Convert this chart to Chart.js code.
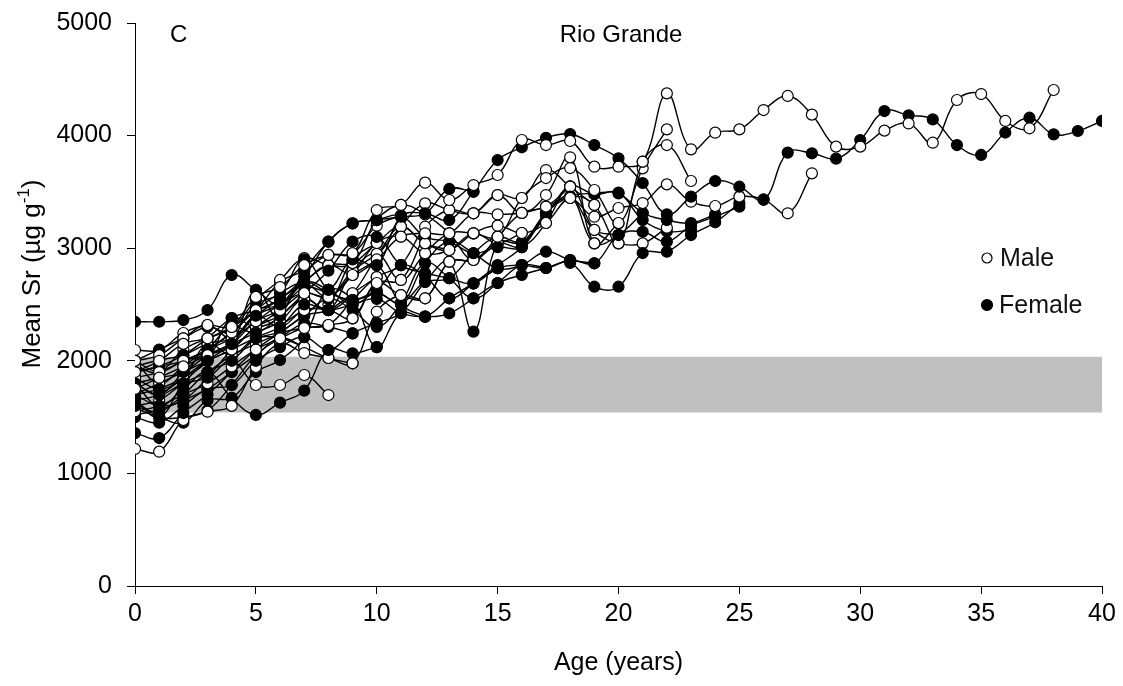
<!DOCTYPE html>
<html>
<head>
<meta charset="utf-8">
<script src="https://cdn.jsdelivr.net/npm/chart.js@4.4.0/dist/chart.umd.min.js"></script>
<style>
html,body{margin:0;padding:0;background:#fff;}
#wrap{position:relative;width:1123px;height:686px;}
</style>
</head>
<body>
<div id="wrap"><canvas id="c" width="1123" height="686"></canvas></div>
<script>
// ---- data (values by age, index = age in years) ----
const xTicks = [0, 5, 10, 15, 20, 25, 30, 35, 40];
const yTicks = [0, 1000, 2000, 3000, 4000, 5000];
const bandLow = 1540;
const bandHigh = 2035;

// Male fish (open circles)
const M1 = [1900,2000,2150,2200,2300,2567,2655,2850,2940,2955,3339,3384,3582,3428,3561,3650,3961,3916,3952,3724,3724,3768,4375,3878,4026,4055,4227,4352,4186,3902,3902,4044,4108,3937,4316,4369,4130,4065,4405];
const M2 = [1750,1850,1950,2050,2150,2350,2450,2600,2567,2762,2900,3102,3132,3132,3310,3300,3313,3369,3446,3280,3357,3401,3567,3413,3375,3458,3434,3310,3665];
const M3 = [1850,1900,2000,2100,2250,2450,2500,2700,2850,2868,3046,3191,3043,2984,3132,3200,3135,3224,3450,3384,3043,3768,3916,3597];
const M4 = [1650,1700,1850,2000,2100,2300,2400,2550,2450,2800,2950,2718,2955,3132,3132,3102,3446,3623,3712,3517,3224,3709,4055];
const M5 = [2000,2050,2200,2318,2200,2400,2300,2450,2451,2377,2691,2584,2555,2880,2895,3046,3010,3224,3546,3162,3043,3043,3182];
const M6 = [1550,1600,1700,1800,1950,2100,2200,2291,2318,2540,2744,2850,3191,3339,3310,3472,3313,3472,3807,3043,3221];
const M7 = [1800,1850,1900,2050,2150,2250,2350,2550,2451,2600,2922,3191,3398,3339,3310,3472,3446,3694,3546,3384];
const M8 = [2096,2096,2247,2318,2300,2540,2718,2912,2851,2868,3250,3384,3300,3132,2895,3102,3313,3369,3546];
const M9 = [1950,2007,2050,2150,2200,2350,2500,2602,2567,2762,3046,3102,2955,2984,3132,3046,3135];
const M10 = [1217,1193,1474,1548,1600,1945,2150,2069,2025,1978,2436,2584,2555,2880,2895,3046];
const M11 = [1900,1950,2000,2100,2250,2450,2600,2691,2567,2800,2950,3191,3043,2984];
const M12 = [1700,1800,1900,2000,2100,2200,2250,2291,2318,2377,2691,2718,3132];
const M13 = [1600,1650,1800,1900,2050,2150,2250,2400,2450,2600,2744];
const M14 = [2000,1900,2000,2050,2150,2629,2350,2450,2500,2900,3046];
const M15 = [1850,1750,1850,2150,2050,2200,2200,2122,2025,1978];
const M16 = [1800,1700,1800,1850,2000,1785,1785,1874,1696];
const M17 = [1520,1563,1650,1750,1900,2050,2200,2122];
const M18 = [1950,1900,2100,2200,2300,2450,2700,2800,2940,2955,3200,3290];

// Female fish (filled circles)
const F1 = [1650,1500,1800,2000,2150,2400,2500,2700,2630,2900,2850,3280,3310,3250,3502,3783,3896,3981,4014,3916,3798,3579,3301,3458,3597,3546,3430,3849,3843,3795,3960,4218,4180,4144,3916,3828,4027,4159,4011,4041,4130];
const F2 = [1800,1700,1900,2100,2300,2250,2400,2600,2800,3058,3100,2850,2780,2733,2688,2822,2850,2824,2895,2866,3117,3146,3058,3200,3280,3369];
const F3 = [1600,1550,1700,1900,2000,2200,2300,2500,2450,2500,2550,2424,2392,2422,2555,2691,2762,2824,2870,2658,2658,2957,2969,3117,3230,3400];
const F4 = [1900,1950,2050,2200,2380,2450,2550,2750,3058,3221,3250,3290,3100,3058,2955,3010,3010,3313,3458,3487,3487,3313,3250,3224,3300];
const F5 = [1700,1600,1650,1850,2100,2300,2450,2650,2600,2540,2602,2513,2700,2733,2955,3100,3055,3290,3550,3480,3493,3250,3150,3160];
const F6 = [2000,2100,2200,2300,2250,2500,2600,2900,2629,2540,2629,2850,2750,2555,2688,2850,3010,3313,3458,3043,3117,3313];
const F7 = [1500,1450,1600,1750,1785,2000,2122,2211,2096,2244,2336,2424,2700,2880,2259,3046,3050,3313,3446,3162,3117];
const F8 = [2347,2347,2362,2451,2762,2629,2500,2700,2629,2500,2602,2513,2868,3058,2955,2822,2850,2969,2895,2866];
const F9 = [1358,1314,1536,1700,1900,2100,2250,2400,2550,2451,2300,2513,2868,2733,2555,2691,2850,2824];
const F10 = [1580,1500,1450,1650,1670,1900,2007,2211,2629,2540,2122,2424,2392,2555,2688,2822];
const F11 = [1700,1750,1850,2000,2380,2300,2400,2800,3058,3221,3250,3280,3310,3526,3502];
const F12 = [2000,1800,1950,2100,2200,2400,2550,2700,2850,2762,2850,2500,2392];
const F13 = [1800,1600,1750,1900,1670,1519,1628,1735,2096,2067,2122];
const F14 = [1650,1504,1500,1560,1785,2050,2200,2330,2300,2244];

const maleFish = [M1,M2,M3,M4,M5,M6,M7,M8,M9,M10,M11,M12,M13,M14,M15,M16,M17,M18];
const femaleFish = [F1,F2,F3,F4,F5,F6,F7,F8,F9,F10,F11,F12,F13,F14];

// ---- build datasets ----
function toPoints(arr){ return arr.map((v,i)=>({x:i,y:v})); }
function fishDataset(arr, female){
  return {
    data: toPoints(arr),
    borderColor: '#000',
    borderWidth: 1.4,
    tension: 0.4,
    pointRadius: 5.5,
    pointBorderWidth: 1.2,
    pointBorderColor: '#000',
    pointBackgroundColor: female ? '#000' : '#fff',
    fill: false,
    order: 0
  };
}
const datasets = [];
datasets.push({
  data: [{x:xTicks[0], y:bandHigh},{x:xTicks[xTicks.length-1], y:bandHigh}],
  borderWidth: 0,
  borderColor: 'rgba(0,0,0,0)',
  pointRadius: 0,
  backgroundColor: '#c0c0c0',
  fill: {value: bandLow},
  order: 1000,
  tension: 0
});
const n = Math.max(maleFish.length, femaleFish.length);
for (let i = 0; i < n; i++){
  if (i < maleFish.length) datasets.push(fishDataset(maleFish[i], false));
  if (i < femaleFish.length) datasets.push(fishDataset(femaleFish[i], true));
}

const FONT = "'Liberation Sans', Arial, sans-serif";

const annotations = {
  id: 'annotations',
  afterDraw(chart){
    const ctx = chart.ctx;
    ctx.save();
    ctx.fillStyle = '#000';
    ctx.textBaseline = 'middle';
    ctx.font = "24px " + FONT;
    ctx.textAlign = 'left';
    ctx.fillText('C', 170, 35);
    ctx.textAlign = 'center';
    ctx.fillText('Rio Grande', 621, 35);
    // y-axis title with superscript
    ctx.save();
    ctx.translate(31, 274);
    ctx.rotate(-Math.PI/2);
    const main = 'Mean Sr (µg g';
    const sup = '-1';
    const tail = ')';
    ctx.font = "26px " + FONT;
    const wMain = ctx.measureText(main).width;
    const wTail = ctx.measureText(tail).width;
    ctx.font = "17px " + FONT;
    const wSup = ctx.measureText(sup).width;
    const total = wMain + wSup + wTail;
    let x0 = -total/2;
    ctx.textAlign = 'left';
    ctx.textBaseline = 'alphabetic';
    ctx.font = "26px " + FONT;
    ctx.fillText(main, x0, 9);
    ctx.font = "17px " + FONT;
    ctx.fillText(sup, x0 + wMain, -2);
    ctx.font = "26px " + FONT;
    ctx.fillText(tail, x0 + wMain + wSup, 9);
    ctx.restore();
    // legend
    ctx.lineWidth = 1.2;
    ctx.strokeStyle = '#000';
    ctx.beginPath(); ctx.arc(987, 258, 5, 0, Math.PI*2);
    ctx.fillStyle = '#fff'; ctx.fill(); ctx.stroke();
    ctx.beginPath(); ctx.arc(987, 305, 5.5, 0, Math.PI*2);
    ctx.fillStyle = '#000'; ctx.fill(); ctx.stroke();
    ctx.fillStyle = '#111';
    ctx.font = "25px " + FONT;
    ctx.textAlign = 'left';
    ctx.textBaseline = 'middle';
    ctx.fillText('Male', 1000, 259);
    ctx.fillText('Female', 999, 306);
    ctx.restore();
  }
};

new Chart(document.getElementById('c'), {
  type: 'line',
  data: { datasets },
  options: {
    responsive: false,
    animation: false,
    events: [],
    layout: { padding: { top: 23, right: 21, left: 0, bottom: 0 } },
    plugins: { legend: { display: false }, tooltip: { enabled: false }, title: { display: false } },
    scales: {
      x: {
        type: 'linear',
        min: xTicks[0], max: xTicks[xTicks.length-1],
        afterFit(s){ s.height = 100; },
        afterBuildTicks(s){ s.ticks = xTicks.map(v=>({value:v})); },
        border: { color: '#000', width: 1 },
        grid: { drawOnChartArea: false, drawTicks: true, tickLength: 8, color: '#000' },
        ticks: { color: '#000', font: { family: FONT, size: 25 }, padding: 5, maxRotation: 0, callback: v => String(v) },
        title: { display: true, text: 'Age (years)', color: '#000', font: { family: FONT, size: 25 }, padding: { top: 0, bottom: 8 } }
      },
      y: {
        type: 'linear',
        min: yTicks[0], max: yTicks[yTicks.length-1],
        afterFit(s){ s.width = 135; s.paddingTop = 0; s.paddingBottom = 0; },
        afterBuildTicks(s){ s.ticks = yTicks.map(v=>({value:v})); },
        border: { color: '#000', width: 1 },
        grid: { drawOnChartArea: false, drawTicks: true, tickLength: 8, color: '#000' },
        ticks: { color: '#000', font: { family: FONT, size: 25 }, padding: 15, callback: v => String(v) },
        title: { display: false }
      }
    }
  },
  plugins: [annotations]
});
</script>
</body>
</html>
